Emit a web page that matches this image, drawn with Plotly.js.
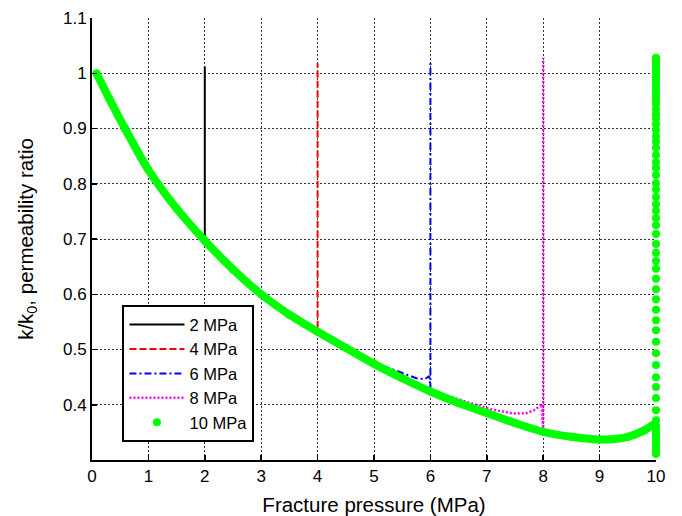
<!DOCTYPE html>
<html>
<head>
<meta charset="utf-8">
<script src="https://cdn.plot.ly/plotly-3.0.1.min.js"></script>
<style>html,body{margin:0;padding:0;background:#fff;}#chart{width:682px;height:516px;}</style>
</head>
<body>
<div id="chart"></div>
<script>
// Shared loading curve
var curveX = [0.08, 0.3, 0.585, 1.0, 1.5, 2.0, 2.5, 3.0, 3.5, 4.0, 4.5, 5.0, 5.5, 6.0, 6.5, 7.0, 7.5, 8.0, 8.5, 9.0, 9.5, 9.8, 9.95, 9.99];
var curveY = [1.0, 0.955, 0.9, 0.825, 0.755, 0.697, 0.645, 0.600, 0.563, 0.532, 0.503, 0.474, 0.448, 0.424, 0.403, 0.385, 0.367, 0.351, 0.342, 0.337, 0.342, 0.354, 0.364, 0.366];

// Series tails (unloading branches)
var s2X = [2, 2],          s2Y = [0.697, 1.012];
var s4X = [4, 4],          s4Y = [0.532, 1.018];
var s6X = [5.2, 5.5, 5.75, 5.9, 5.98, 6, 6];
var s6Y = [0.469, 0.457, 0.448, 0.446, 0.452, 0.43, 1.024];
var s8X = [6.3, 6.7, 7.1, 7.47, 7.71, 7.86, 7.97, 8, 8];
var s8Y = [0.416, 0.403, 0.391, 0.384, 0.385, 0.391, 0.401, 0.354, 1.028];
// 10 MPa vertical dotted branch at x = 10
var s10Y = [0.311, 0.316, 0.321, 0.327, 0.333, 0.338, 0.343, 0.348, 0.354, 0.360, 0.372, 0.390, 0.412, 0.432, 0.450, 0.472, 0.493, 0.514, 0.535, 0.553, 0.572, 0.591, 0.609, 0.628, 0.646, 0.660, 0.675, 0.691, 0.709, 0.725, 0.738, 0.751, 0.763, 0.776, 0.790, 0.801, 0.816, 0.829, 0.839, 0.852, 0.865, 0.876, 0.886, 0.897, 0.908, 0.917, 0.926, 0.935, 0.944, 0.952, 0.959, 0.966, 0.973, 0.981, 0.988, 0.993, 0.999, 1.004, 1.010, 1.015, 1.020, 1.024, 1.028];
var s10X = s10Y.map(function(){ return 10; });

var seriesNames = ['2 MPa', '4 MPa', '6 MPa', '8 MPa', '10 MPa'];
var xTicks = [0,1,2,3,4,5,6,7,8,9,10];
var yTicks = [0.4,0.5,0.6,0.7,0.8,0.9,1.0,1.1];
var yTickText = ['0.4','0.5','0.6','0.7','0.8','0.9','1','1.1'];

function upTo(limit) {
  var xs = [], ys = [];
  for (var i = 0; i < curveX.length; i++) {
    if (curveX[i] <= limit) { xs.push(curveX[i]); ys.push(curveY[i]); }
  }
  return {x: xs, y: ys};
}
var c2 = upTo(2), c4 = upTo(4), c6 = upTo(5.0), c8 = upTo(6.0);

var traces = [
  {x: c2.x.concat(s2X), y: c2.y.concat(s2Y), mode: 'lines', name: seriesNames[0], legendrank: 1,
   line: {color: '#000000', width: 2}},
  {x: c4.x.concat(s4X), y: c4.y.concat(s4Y), mode: 'lines', name: seriesNames[1], legendrank: 2,
   line: {color: '#ff0000', width: 2, dash: '7px,3px'}},
  {x: c6.x.concat(s6X), y: c6.y.concat(s6Y), mode: 'lines', name: seriesNames[2], legendrank: 3,
   line: {color: '#0000ff', width: 2, dash: '7px,3px,2px,3px'}},
  {x: c8.x.concat(s8X), y: c8.y.concat(s8Y), mode: 'lines', name: seriesNames[3], legendrank: 4,
   line: {color: '#ff00ff', width: 2.5, dash: '2px,2px'}},
  {x: curveX, y: curveY, mode: 'lines+markers', name: seriesNames[4], showlegend: false, cliponaxis: false,
   line: {color: '#00ff00', width: 8, shape: 'spline', smoothing: 0.8}, marker: {color: '#00ff00', size: 8}},
  {x: s10X, y: s10Y, mode: 'markers', name: seriesNames[4], legendrank: 5, cliponaxis: false,
   marker: {color: '#00ff00', size: 8}}
];

var fontFam = 'Liberation Sans, Arial, Helvetica, sans-serif';
var layout = {
  width: 682, height: 516,
  margin: {l: 92, r: 26, t: 18, b: 56},
  paper_bgcolor: '#ffffff', plot_bgcolor: '#ffffff',
  font: {family: fontFam, size: 17, color: '#000'},
  showlegend: true,
  legend: {x: 0.054, y: 0.35, xanchor: 'left', yanchor: 'top',
    bgcolor: '#ffffff', bordercolor: '#000', borderwidth: 2, itemwidth: 55,
    font: {family: fontFam, size: 16.5, color: '#000'}},
  xaxis: {range: [0, 10], tickvals: xTicks, ticks: 'inside', ticklen: 5, tickwidth: 1.5, tickcolor: '#000',
    showline: true, linewidth: 2, linecolor: '#000', zeroline: false,
    showgrid: true, gridcolor: '#333', gridwidth: 1, griddash: '2px,2px',
    tickfont: {size: 17}, title: {text: 'Fracture pressure (MPa)', font: {size: 20.5}, standoff: 12}},
  yaxis: {range: [0.3, 1.1], tickvals: yTicks, ticktext: yTickText, ticks: 'inside', ticklen: 5, tickwidth: 1.5, tickcolor: '#000',
    showline: true, linewidth: 2, linecolor: '#000', zeroline: false,
    showgrid: true, gridcolor: '#333', gridwidth: 1, griddash: '2px,2px',
    tickfont: {size: 17}, title: {text: 'k/k<sub>0</sub>, permeability ratio', font: {size: 20.5}, standoff: 24}}
};

Plotly.newPlot('chart', traces, layout, {displayModeBar: false, staticPlot: true});
</script>
</body>
</html>
